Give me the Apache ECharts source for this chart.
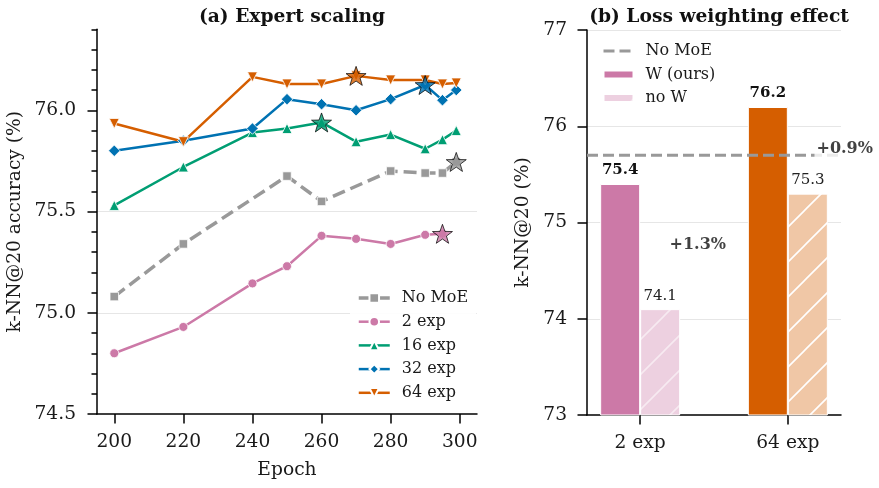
<!DOCTYPE html>
<html><head><meta charset="utf-8">
<script src="https://cdn.jsdelivr.net/npm/echarts@6/dist/echarts.min.js"></script>
<style>html,body{margin:0;padding:0;background:#fff}#c{width:879px;height:488px}</style>
</head><body><div id="c"></div>
<script>
// ---------- data: (a) Expert scaling ----------
const epochs      = [200,220,240,250,260,270,280,290,295,299];
const noMoEEpochs = [200,220,250,260,280,290,295,299];
const noMoE       = [75.08,75.34,75.675,75.55,75.70,75.69,75.69,75.745];
const exp2Epochs  = [200,220,240,250,260,270,280,290,295];
const exp2        = [74.80,74.93,75.145,75.23,75.38,75.365,75.34,75.385,75.39];
const exp16       = [75.53,75.72,75.89,75.91,75.94,75.845,75.88,75.81,75.855,75.90];
const exp32       = [75.80,75.85,75.91,76.055,76.03,76.00,76.055,76.125,76.05,76.10];
const exp64       = [75.935,75.845,76.165,76.13,76.13,76.17,76.15,76.15,76.13,76.135];
const xTicksA     = [200,220,240,260,280,300];
const yTicksA     = [74.5,75.0,75.5,76.0];

// ---------- data: (b) Loss weighting effect ----------
const barCats   = ['2 exp','64 exp'];
const withW     = [75.4, 76.2];
const withoutW  = [74.1, 75.3];
const noMoERef  = 75.7;
const gainTexts = ['+1.3%','+0.9%'];
const yTicksB   = [73,74,75,76,77];

// ---------- layout / style ----------
const FONT = 'DejaVu Serif';
const C = {gray:'#999999', pink:'#CC79A7', green:'#009E73', blue:'#0072B2', orange:'#D55E00'};
const gainPos = [[0.39, 74.77],[1.385, 75.77]];
const xMinB = -0.36, xMaxB = 1.36;
const STAR = 'path://M0,-10L2.35,-3.24L9.51,-3.09L3.8,1.24L5.88,8.09L0,4L-5.88,8.09L-3.8,1.24L-9.51,-3.09L-2.35,-3.24Z';

function hatch(bg, line){
  const s = 35, c = document.createElement('canvas');
  c.width = s; c.height = s;
  const g = c.getContext('2d');
  g.fillStyle = bg; g.fillRect(0,0,s,s);
  g.strokeStyle = line; g.lineWidth = 1.6;
  g.beginPath();
  g.moveTo(-5, s+5); g.lineTo(s+5, -5);
  g.moveTo(-5, 5); g.lineTo(5, -5);
  g.moveTo(s-5, s+5); g.lineTo(s+5, s-5);
  g.stroke();
  return {image: c, repeat: 'repeat'};
}
const pinkHatch = hatch('rgb(237,208,224)', 'rgba(255,255,255,0.55)');
const orangeHatch = hatch('rgb(240,199,166)', '#ffffff');

const zip = (xs, ys) => xs.map((x,i)=>[x, ys[i]]);
function best(xs, ys){ let k=0; ys.forEach((v,i)=>{ if(v>ys[k]) k=i; }); return [xs[k], ys[k]]; }

const lineDefs = [
  {name:'No MoE', xs:noMoEEpochs, ys:noMoE, color:C.gray, symbol:'rect', size:8.5, width:3.5, type:[13,6]},
  {name:'2 exp',  xs:exp2Epochs,  ys:exp2,  color:C.pink, symbol:'circle', size:9, width:2.5, type:'solid'},
  {name:'16 exp', xs:epochs, ys:exp16, color:C.green, symbol:'triangle', size:10, width:2.5, type:'solid'},
  {name:'32 exp', xs:epochs, ys:exp32, color:C.blue, symbol:'diamond', size:11.5, width:2.5, type:'solid'},
  {name:'64 exp', xs:epochs, ys:exp64, color:C.orange, symbol:'triangle', rotate:180, size:10, width:2.5, type:'solid'}
];

const axisLineStyle = {color:'#000', width:1.5};
const tickStyle = {color:'#000', width:1.5};
const labelStyle = {fontFamily:FONT, fontSize:18.67, color:'#1a1a1a'};

const series = [];
lineDefs.forEach(d => {
  series.push({
    type:'line', name:d.name, xAxisIndex:0, yAxisIndex:0,
    data: zip(d.xs, d.ys),
    symbol:d.symbol, symbolSize:d.size, symbolRotate:d.rotate||0, showSymbol:true,
    lineStyle:{color:d.color, width:d.width, type:d.type},
    itemStyle:{color:d.color, borderColor:'#fff', borderWidth:0.8},
    animation:false, z:2
  });
});
series.push({
  type:'scatter', name:'best', xAxisIndex:0, yAxisIndex:0,
  data: lineDefs.map(d => ({value: best(d.xs, d.ys), itemStyle:{color:d.color}})),
  symbol: STAR, symbolSize:[20,19],
  itemStyle:{borderColor:'#000', borderWidth:0.9},
  animation:false, z:5
});

// right chart
series.push({
  type:'line', name:'No MoE ', xAxisIndex:1, yAxisIndex:2,
  data: [[xMinB, noMoERef],[xMaxB, noMoERef]],
  symbol:'circle', symbolSize:0, showSymbol:false,
  lineStyle:{color:C.gray, width:3, type:[11,5]},
  itemStyle:{color:'rgba(0,0,0,0)'},
  animation:false, z:3
});
const barColors = [C.pink, C.orange];
const hatchColors = [pinkHatch, orangeHatch];
series.push({
  type:'bar', name:'W (ours)', xAxisIndex:1, yAxisIndex:2,
  barWidth:40, barGap:'0%',
  data: withW.map((v,i)=>({value:[i, v], itemStyle:{color:barColors[i]}})),
  itemStyle:{color:C.pink, borderColor:'#fff', borderWidth:1},
  label:{show:true, position:'top', distance:6, formatter:p=>p.value[1].toFixed(1),
         fontFamily:FONT, fontSize:15, fontWeight:'bold', color:'#111'},
  animation:false, z:2
});
series.push({
  type:'bar', name:'no W', xAxisIndex:1, yAxisIndex:2,
  barWidth:40, barGap:'0%',
  data: withoutW.map((v,i)=>({value:[i, v], itemStyle:{color:hatchColors[i]}})),
  itemStyle:{color:pinkHatch, borderColor:'#fff', borderWidth:1},
  label:{show:true, position:'top', distance:6, formatter:p=>p.value[1].toFixed(1),
         fontFamily:FONT, fontSize:15, color:'#222'},
  animation:false, z:2
});
series.push({
  type:'scatter', name:'gain', xAxisIndex:1, yAxisIndex:2, clip:false,
  data: gainPos.map((p,i)=>({value:p, name:gainTexts[i]})),
  symbolSize:0,
  label:{show:true, position:'inside', formatter:p=>p.name, fontFamily:FONT, fontSize:16,
         fontWeight:'bold', color:'#111', backgroundColor:'#fff', padding:[1,2]},
  animation:false, z:6
});

const option = {
  backgroundColor:'#fff',
  animation:false,
  title:[
    {text:'(a) Expert scaling', left:287, top:3, textAlign:'center',
     textStyle:{fontFamily:FONT, fontSize:18.67, fontWeight:'bold', color:'#111'}},
    {text:'(b) Loss weighting effect', left:714, top:3, textAlign:'center',
     textStyle:{fontFamily:FONT, fontSize:18.67, fontWeight:'bold', color:'#111'}}
  ],
  legend:[
    {data:['No MoE','2 exp','16 exp','32 exp','64 exp'], orient:'vertical',
     left:350, top:285, itemWidth:31, itemHeight:12, itemGap:7.7, padding:[5,8,5,7],
     backgroundColor:'rgba(255,255,255,0.9)',
     lineStyle:{width:'inherit'},
     textStyle:{fontFamily:FONT, fontSize:16, color:'#1a1a1a', padding:[0,0,0,7]}},
    {data:[{name:'No MoE '},{name:'W (ours)', icon:'rect'},{name:'no W', icon:'rect'}], orient:'vertical',
     left:602, top:43, itemWidth:30, itemHeight:8, itemGap:7.5, padding:0,
     lineStyle:{width:'inherit'},
     textStyle:{fontFamily:FONT, fontSize:16, color:'#1a1a1a', padding:[0,0,0,7]}}
  ],
  grid:[
    {left:97, top:29.3, width:380, height:384.7},
    {left:587, top:30, width:254, height:385}
  ],
  xAxis:[
    {gridIndex:0, type:'value', min:195, max:305,
     axisLine:{onZero:false, lineStyle:axisLineStyle},
     axisTick:{customValues:xTicksA, length:9.5, lineStyle:tickStyle},
     axisLabel:{customValues:xTicksA, margin:19, ...labelStyle},
     splitLine:{show:false},
     name:'Epoch', nameLocation:'middle', nameGap:47, nameTextStyle:labelStyle},
    {gridIndex:1, type:'value', min:xMinB, max:xMaxB,
     axisLine:{onZero:false, lineStyle:axisLineStyle},
     axisTick:{customValues:[0,1], length:9.5, lineStyle:tickStyle},
     axisLabel:{customValues:[0,1], margin:19, formatter:v=>barCats[Math.round(v)], ...labelStyle},
     splitLine:{show:false}}
  ],
  yAxis:[
    {gridIndex:0, type:'value', min:74.5, max:76.4, interval:0.5, position:'left',
     axisLine:{show:true, onZero:false, lineStyle:axisLineStyle},
     axisTick:{show:true, customValues:yTicksA, length:9.5, lineStyle:tickStyle},
     axisLabel:{customValues:yTicksA, margin:21, formatter:v=>v.toFixed(1), ...labelStyle},
     splitLine:{show:true, showMinLine:false, showMaxLine:false, lineStyle:{color:'#e6e6e6', width:1}},
     name:'k-NN@20 accuracy (%)', nameLocation:'middle', nameGap:72, nameRotate:90, nameTextStyle:labelStyle},
    {gridIndex:0, type:'value', min:74.5, max:76.4, interval:0.1, position:'left', offset:0,
     axisLine:{show:false, onZero:false},
     axisTick:{show:true, length:5.5, lineStyle:tickStyle},
     axisLabel:{show:false}, splitLine:{show:false}},
    {gridIndex:1, type:'value', min:73, max:77, interval:1, position:'left',
     axisLine:{show:true, onZero:false, lineStyle:axisLineStyle},
     axisTick:{show:true, customValues:yTicksB, length:9.5, lineStyle:tickStyle},
     axisLabel:{customValues:yTicksB, margin:20, ...labelStyle},
     splitLine:{show:true, showMinLine:false, lineStyle:{color:'#e6e6e6', width:1}},
     name:'k-NN@20 (%)', nameLocation:'middle', nameGap:54, nameRotate:90, nameTextStyle:labelStyle}
  ],
  series: series
};
const chart = echarts.init(document.getElementById('c'), null, {renderer:'canvas'});
chart.setOption(option);
</script>
</body></html>
